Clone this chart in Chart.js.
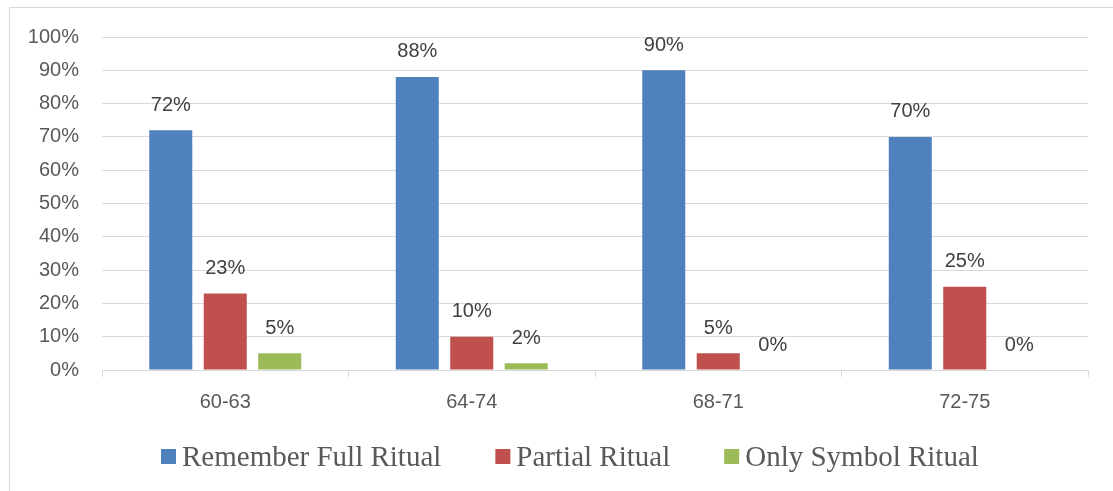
<!DOCTYPE html>
<html>
<head>
<meta charset="utf-8">
<script src="https://cdn.jsdelivr.net/npm/chart.js@4.4.1/dist/chart.umd.min.js"></script>
<style>
    html, body { margin: 0; padding: 0; background: #fff; }
    #wrap { width: 1113px; height: 491px; position: relative; }
</style>
</head>
<body>
<div id="wrap"><canvas id="myChart" width="1113" height="491"></canvas></div>
<script>
const categorias = ["60-63", "64-74", "68-71", "72-75"];
const seriesNomes = ["Remember Full Ritual", "Partial Ritual", "Only Symbol Ritual"];
const fullRitual = [72, 88, 90, 70];
const partialRitual = [23, 10, 5, 25];
const symbolRitual = [5, 2, 0, 0];
const cores = ["#4f81bd", "#c0504d", "#9bbb59"];

const sansFont = "'Liberation Sans', Arial, sans-serif";

// moldura clara em volta do gráfico
const moldura = {
    id: "moldura",
    beforeDraw(chart) {
        const ctx = chart.ctx;
        ctx.save();
        ctx.strokeStyle = "#d9d9d9";
        ctx.lineWidth = 1;
        ctx.strokeRect(9.5, 7.5, 1200, 600);
        ctx.restore();
    }
};

// rótulos de valor em cima de cada barra
const rotulos = {
    id: "rotulos",
    afterDatasetsDraw(chart) {
        const ctx = chart.ctx;
        ctx.save();
        ctx.font = "20px " + sansFont;
        ctx.fillStyle = "#404040";
        ctx.textAlign = "center";
        ctx.textBaseline = "middle";
        chart.data.datasets.forEach((ds, i) => {
            chart.getDatasetMeta(i).data.forEach((bar, j) => {
                ctx.fillText(ds.data[j] + "%", bar.x, bar.y - 25);
            });
        });
        ctx.restore();
    }
};

// legenda desenhada à mão para controlar espaçamento
const legenda = {
    id: "legenda",
    afterDraw(chart) {
        const ctx = chart.ctx;
        const box = 15, gapTexto = 6, gapItem = 54, inicio = 161, baseY = 466;
        ctx.save();
        ctx.font = "29px 'Liberation Serif', 'Times New Roman', serif";
        ctx.textBaseline = "alphabetic";
        let x = inicio;
        chart.data.datasets.forEach(ds => {
            const w = ctx.measureText(ds.label).width;
            ctx.fillStyle = ds.backgroundColor;
            ctx.fillRect(x, baseY - 17, box, box);
            ctx.fillStyle = "#595959";
            ctx.fillText(ds.label, x + box + gapTexto, baseY);
            x += box + gapTexto + w + gapItem;
        });
        ctx.restore();
    }
};

const ctx = document.getElementById("myChart").getContext("2d");

new Chart(ctx, {
    type: "bar",
    data: {
        labels: categorias,
        datasets: [
            { label: seriesNomes[0], data: fullRitual, backgroundColor: cores[0] },
            { label: seriesNomes[1], data: partialRitual, backgroundColor: cores[1] },
            { label: seriesNomes[2], data: symbolRitual, backgroundColor: cores[2] }
        ]
    },
    options: {
        responsive: false,
        animation: false,
        categoryPercentage: 0.663,
        barPercentage: 0.79,
        layout: { padding: { left: 10, right: 25, top: 37, bottom: 71 } },
        plugins: {
            legend: { display: false },
            tooltip: { enabled: false }
        },
        scales: {
            x: {
                afterFit: s => { s.height = 50; },
                grid: {
                    drawOnChartArea: false,
                    tickLength: 7,
                    color: "#d9d9d9",
                    lineWidth: 1
                },
                border: { color: "#d9d9d9", width: 1 },
                ticks: { color: "#595959", font: { family: sansFont, size: 20 }, padding: 13 }
            },
            y: {
                min: 0,
                max: 100,
                afterFit: s => { s.width = 92; },
                grid: { drawTicks: false, color: "#d9d9d9", lineWidth: 1 },
                border: { display: false },
                ticks: {
                    stepSize: 10,
                    padding: 23,
                    color: "#595959",
                    font: { family: sansFont, size: 20 },
                    callback: v => v + "%"
                }
            }
        }
    },
    plugins: [moldura, rotulos, legenda]
});
</script>
</body>
</html>
